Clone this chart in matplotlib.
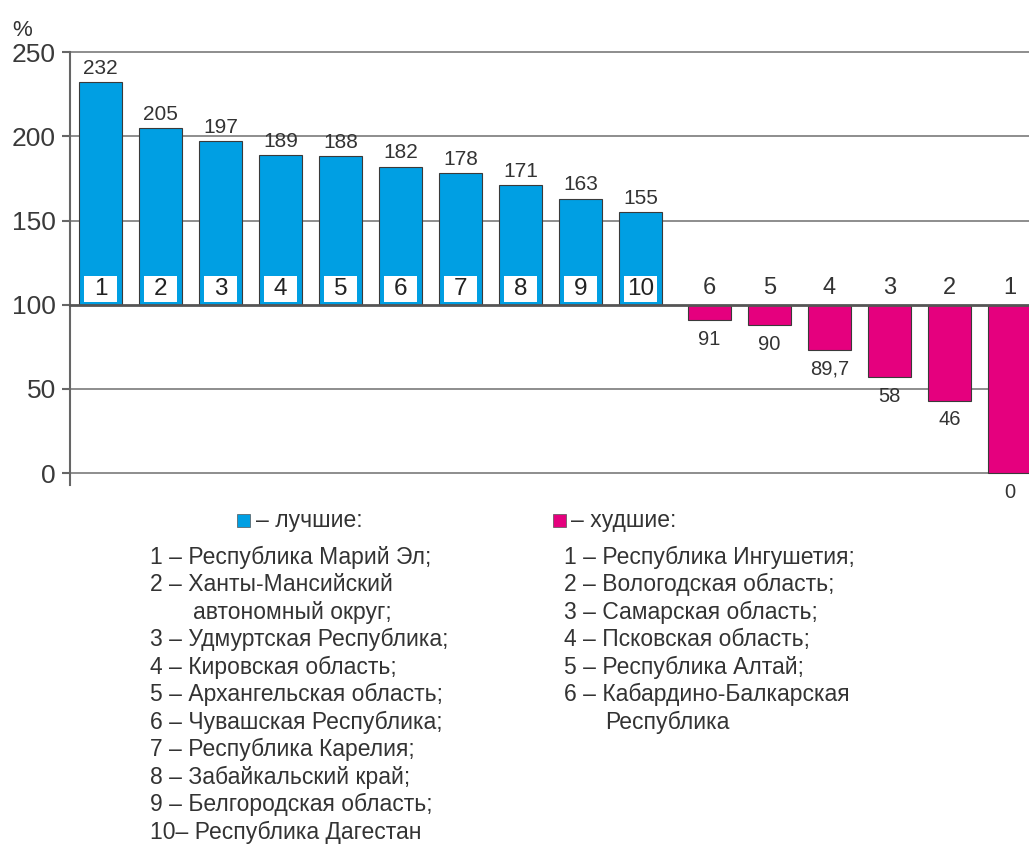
import numpy as np
import matplotlib.pyplot as plt

plt.rcParams['font.family'] = ['Liberation Sans', 'DejaVu Sans']

# Лучшие регионы (столбцы вверх от 100 %)
best_nums = ['1', '2', '3', '4', '5', '6', '7', '8', '9', '10']
best_vals = [232, 205, 197, 189, 188, 182, 178, 171, 163, 155]

# Худшие регионы (столбцы вниз от 100 %), высоты как на рисунке
worst_nums = ['6', '5', '4', '3', '2', '1']
worst_vals = [91, 88, 73, 57, 43, 0]
worst_labels = ['91', '90', '89,7', '58', '46', '0']

best_names = [
    'Республика Марий Эл;',
    'Ханты-Мансийский\nавтономный округ;',
    'Удмуртская Республика;',
    'Кировская область;',
    'Архангельская область;',
    'Чувашская Республика;',
    'Республика Карелия;',
    'Забайкальский край;',
    'Белгородская область;',
    'Республика Дагестан',
]
worst_names = [
    'Республика Ингушетия;',
    'Вологодская область;',
    'Самарская область;',
    'Псковская область;',
    'Республика Алтай;',
    'Кабардино-Балкарская\nРеспублика',
]

blue = '#009FE3'
magenta = '#E5007E'
txt = '#333333'
base = 100

fig = plt.figure(figsize=(10.29, 8.46), dpi=100)
ax = fig.add_axes([0.068, 0.4267, 0.932, 0.5118])

x_best = np.arange(len(best_vals))
x_worst = np.arange(len(worst_vals)) + len(best_vals) + 0.15
w = 0.72

# сетка
for g in [0, 50, 150, 200, 250]:
    ax.axhline(g, color='#7a7a7a', lw=1.2, zorder=0, clip_on=False)

best_h = np.array(best_vals) - base
worst_h = np.array(worst_vals) - base
ax.bar(x_best, best_h, bottom=base, width=w, color=blue,
       edgecolor='#3a3a3a', lw=0.8, zorder=2)
ax.bar(x_worst, worst_h, bottom=base, width=w, color=magenta,
       edgecolor='#3a3a3a', lw=0.8, zorder=2)

# белые плашки с номерами
ax.bar(x_best, 15.4, bottom=101.8, width=0.55, color='white', zorder=3)
for xi, n in zip(x_best, best_nums):
    ax.text(xi, 109.3, n, ha='center', va='center', fontsize=17.5,
            color='#222222', zorder=4)

for xi, v in zip(x_best, best_vals):
    ax.annotate(str(v), (xi, v), xytext=(0, 3), textcoords='offset points',
                ha='center', va='bottom', fontsize=15, color=txt)

for xi, n in zip(x_worst, worst_nums):
    ax.annotate(n, (xi, base), xytext=(0, 4), textcoords='offset points',
                ha='center', va='bottom', fontsize=17, color=txt)
for xi, v, lab in zip(x_worst, worst_vals, worst_labels):
    ax.annotate(lab, (xi, v), xytext=(0, -7), textcoords='offset points',
                ha='center', va='top', fontsize=14.5, color=txt)

ax.axhline(base, color='#555555', lw=2, zorder=5, clip_on=False)

ax.set_xlim(-0.508, 15.475)
ax.set_ylim(-7, 250)
ax.set_yticks([0, 50, 100, 150, 200, 250])
ax.set_xticks([])
for s in ['top', 'right', 'bottom']:
    ax.spines[s].set_visible(False)
ax.spines['left'].set_color('#666666')
ax.spines['left'].set_linewidth(1.5)
ax.tick_params(axis='y', direction='out', length=6, width=1.5,
               color='#666666', labelsize=19, labelcolor='#3a3a3a', pad=4)
fig.text(22 / 1029, 1 - 30 / 846, '%', ha='center', va='center',
         fontsize=16, color=txt)

# легенда-пояснения
step = 27.5 / 846
fs = 16.5


def draw_block(x_sq, x_head, x_num, x_indent, y0, color, title, names):
    yh = 1 - 520 / 846
    fig.patches.append(plt.Rectangle((x_sq / 1029, yh - 6.5 / 846), 13 / 1029,
                                     13 / 846, transform=fig.transFigure,
                                     facecolor=color, edgecolor='#555555',
                                     lw=0.5))
    fig.text(x_head / 1029, yh, title, ha='left', va='center',
             fontsize=fs, color=txt)
    y = 1 - y0 / 846
    for i, name in enumerate(names):
        parts = name.split('\n')
        sep = '– ' if i + 1 >= 10 else ' – '
        fig.text(x_num / 1029, y, f'{i + 1}{sep}{parts[0]}', ha='left',
                 va='center', fontsize=fs, color=txt)
        y -= step
        for p in parts[1:]:
            fig.text(x_indent / 1029, y, p, ha='left', va='center',
                     fontsize=fs, color=txt)
            y -= step


draw_block(237, 256, 150, 193, 557, blue, '– лучшие:', best_names)
draw_block(553, 571, 564, 605, 557, magenta, '– худшие:', worst_names)

fig.savefig('out.png', dpi=100)
